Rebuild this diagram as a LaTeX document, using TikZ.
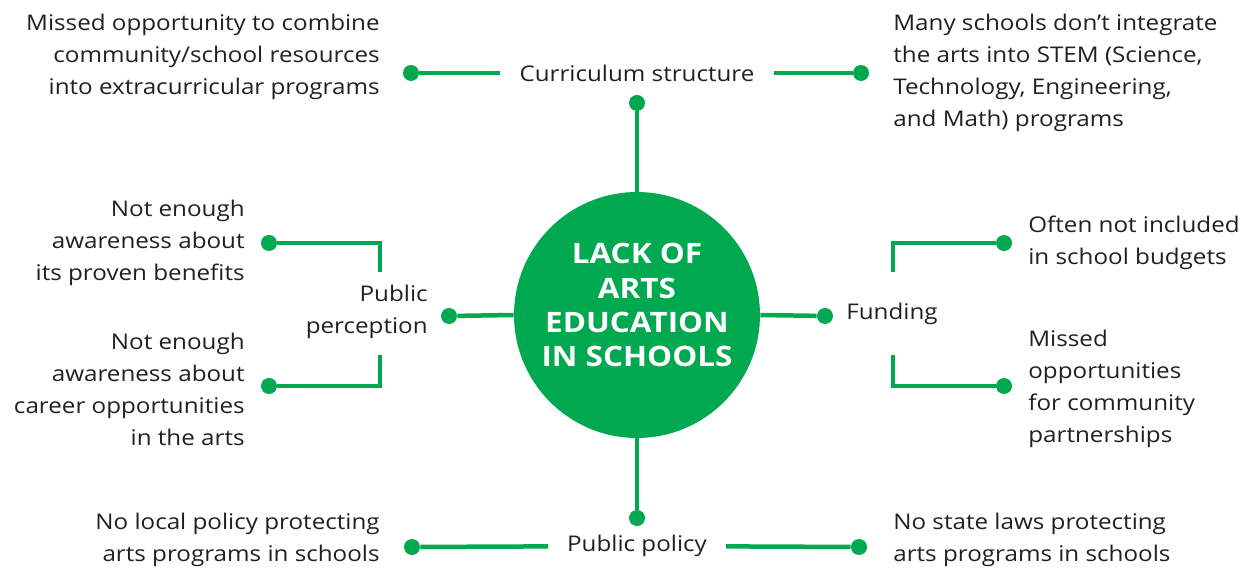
\documentclass[tikz,border=0pt]{standalone}
\usepackage{fontspec}
\setmainfont{Open Sans}[FakeStretch=1.12]
\usepackage{xcolor}
\definecolor{artgreen}{HTML}{00A94F}
\definecolor{ink}{HTML}{231F20}
\usetikzlibrary{calc}

\begin{document}
\begin{tikzpicture}[x=0.02cm, y=-0.02cm,
    gdot/.style={circle, fill=artgreen, inner sep=0pt, minimum size=0.32cm},
    gline/.style={draw=artgreen, line width=0.09cm},
    txt/.style={text=ink, inner sep=0pt, font=\fontsize{12.3}{18.2}\selectfont},
    head/.style={txt, inner xsep=0.38cm}]
    \useasboundingbox (0,0) rectangle (1249,570);

    \node[circle, fill=artgreen, inner sep=0pt, minimum size=4.92cm] (core) at (637,315) {};
    \node[align=center, text=white, inner sep=0pt, font=\fontsize{16}{19.4}\selectfont\bfseries] (title) at (637,305) {LACK OF\\ARTS\\EDUCATION\\IN SCHOOLS};

    \node[head] (curr) at (637,73) {Curriculum structure};
    \node[head] (pol) at (637,546) {Public policy};
    \node[txt, anchor=east, align=right] (perc) at (428,312) {Public\\perception};
    \node[txt, anchor=west] (fund) at (846,314) {Funding};

    \node[gdot] (c1) at (411,73) {};
    \node[gdot] (c2) at (861,73) {};
    \node[gdot] (c3) at (637,103) {};
    \node[gdot] (p1) at (412,547) {};
    \node[gdot] (p2) at (859,547) {};
    \node[gdot] (p3) at (637,518) {};
    \node[gdot] (e1) at (449,316) {};
    \node[gdot] (e2) at (269,243) {};
    \node[gdot] (e3) at (269,386) {};
    \node[gdot] (f1) at (825,316) {};
    \node[gdot] (f2) at (1004,243) {};
    \node[gdot] (f3) at (1004,386) {};

    \coordinate (e2end) at (380,272);
    \coordinate (e3end) at (380,355);
    \coordinate (f2end) at (893,272);
    \coordinate (f3end) at (893,355);

    \draw[gline] (core.north) -- (c3);
    \draw[gline] (core.south) -- (p3);
    \draw[gline] (core.west) -- (e1);
    \draw[gline] (core.east) -- (f1);
    \draw[gline] (c1) -- (curr);
    \draw[gline] (curr) -- (c2);
    \draw[gline] (p1) -- (pol);
    \draw[gline] (pol) -- (p2);
    \draw[gline] (e2) -| (e2end);
    \draw[gline] (e3) -| (e3end);
    \draw[gline] (f2) -| (f2end);
    \draw[gline] (f3) -| (f3end);

    \node[txt, anchor=east, align=right] (t1) at (380,57) {Missed opportunity to combine\\community/school resources\\into extracurricular programs};
    \node[txt, anchor=west, align=left] (t2) at (893,73) {Many schools don’t integrate\\the arts into STEM (Science,\\Technology, Engineering,\\and Math) programs};
    \node[txt, anchor=east, align=right] (t3) at (245,243) {Not enough\\awareness about\\its proven benefits};
    \node[txt, anchor=east, align=right] (t4) at (245,389) {Not enough\\awareness about\\career opportunities\\in the arts};
    \node[txt, anchor=west, align=left] (t5) at (1028,243) {Often not included\\in school budgets};
    \node[txt, anchor=west, align=left] (t6) at (1028,389) {Missed\\opportunities\\for community\\partnerships};
    \node[txt, anchor=east, align=right] (t7) at (380,540) {No local policy protecting\\arts programs in schools};
    \node[txt, anchor=west, align=left] (t8) at (893,540) {No state laws protecting\\arts programs in schools};
\end{tikzpicture}
\end{document}
